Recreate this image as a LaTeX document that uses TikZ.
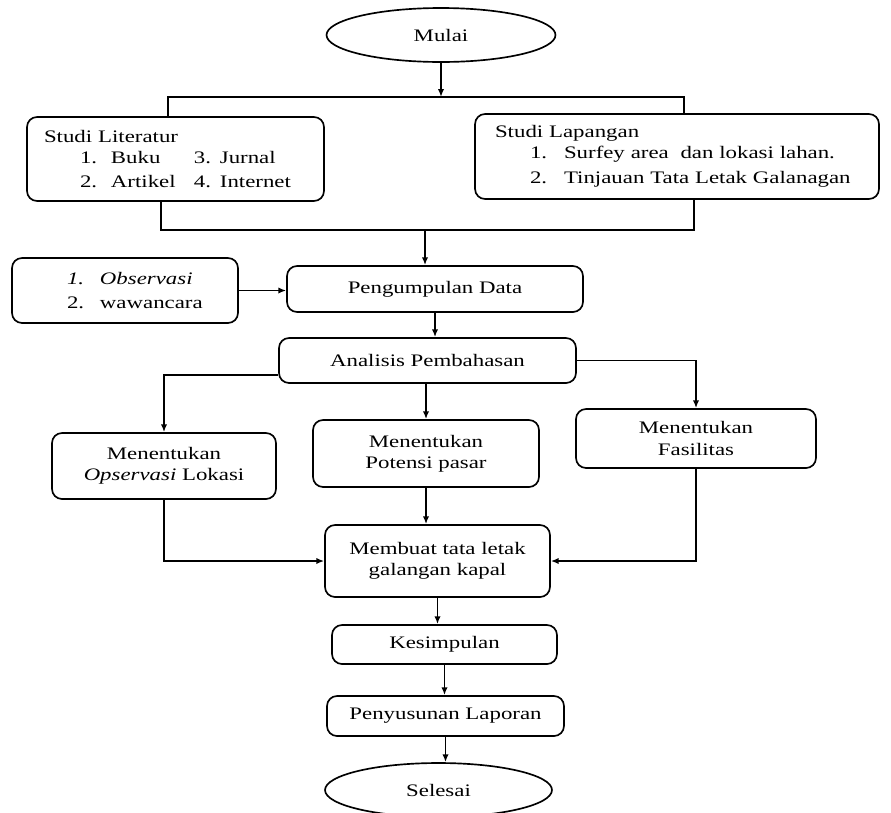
\documentclass[tikz,border=0pt]{standalone}
\usepackage{fontspec}
\setmainfont[FakeStretch=1.3]{Liberation Serif}
\usetikzlibrary{shapes.geometric,arrows.meta}

\begin{document}
\begin{tikzpicture}[x=0.02cm, y=-0.02cm,
            box/.style={draw, rounded corners=0.2cm, line width=0.95pt, align=center, inner sep=0pt},
            oval/.style={draw, ellipse, line width=0.95pt, inner sep=0pt},
            ln/.style={line width=0.9pt},
            arr/.style={line width=0.9pt, -{Latex[length=4.5pt,width=3.6pt]}}]
            \useasboundingbox (0,0) rectangle (891,812);
            \node[oval, minimum width=4.58cm, minimum height=1.08cm] (mulai) at (441,35) {Mulai};
            \node[box, align=left, text width=5.26cm, inner xsep=0.34cm, minimum height=1.68cm] (lit) at (175.5,159)
                {Studi Literatur\\
                \hspace*{0.72cm}\makebox[0.62cm][l]{1.}\makebox[1.66cm][l]{Buku}3. Jurnal\\[2pt]
                \hspace*{0.72cm}\makebox[0.62cm][l]{2.}\makebox[1.66cm][l]{Artikel}4. Internet};
            \node[box, align=left, text width=7.28cm, inner xsep=0.4cm, minimum height=1.70cm] (lap) at (677,156.5)
                {Studi Lapangan\\
                \hspace*{0.70cm}\makebox[0.68cm][l]{1.}Surfey area\ \ dan lokasi lahan.\\[2pt]
                \hspace*{0.70cm}\makebox[0.68cm][l]{2.}Tinjauan Tata Letak Galanagan};
            \node[box, align=left, text width=3.92cm, inner xsep=0.3cm, minimum height=1.30cm] (obs) at (125,290.5)
                {\hspace*{0.8cm}\makebox[0.66cm][l]{\textit{1.}}\textit{Observasi}\\[2pt]
                \hspace*{0.8cm}\makebox[0.66cm][l]{2.}wawancara};
            \node[box, minimum width=5.92cm, minimum height=0.92cm] (kumpul) at (435,289) {Pengumpulan Data};
            \node[box, minimum width=5.94cm, minimum height=0.90cm] (analisis) at (427.5,360.5) {Analisis Pembahasan};
            \node[box, minimum width=4.48cm, minimum height=1.32cm] (lokasi) at (164,466) {Menentukan\\\textit{Opservasi} Lokasi};
            \node[box, minimum width=4.52cm, minimum height=1.34cm] (pasar) at (426,453.5) {Menentukan\\Potensi pasar};
            \node[box, minimum width=4.80cm, minimum height=1.18cm] (fasilitas) at (696,438.5) {Menentukan\\Fasilitas};
            \node[box, minimum width=4.50cm, minimum height=1.44cm] (tataletak) at (437.5,561) {Membuat tata letak\\galangan kapal};
            \node[box, minimum width=4.50cm, minimum height=0.78cm] (simpul) at (444.5,644.5) {Kesimpulan};
            \node[box, minimum width=4.74cm, minimum height=0.80cm] (susun) at (445.5,716) {Penyusunan Laporan};
            \node[oval, minimum width=4.54cm, minimum height=1.08cm] (selesai) at (438.5,790) {Selesai};

            \coordinate (j1) at (441,97);
            \coordinate (tl) at (168,97);
            \coordinate (tr) at (684,97);
            \coordinate (bl) at (161,230);
            \coordinate (br) at (694,230);
            \coordinate (bm) at (425,230);
            \draw[arr] (mulai.south) -- (j1);
            \draw[ln] (lit.north -| tl) -- (tl) -- (tr) -- (lap.north -| tr);
            \draw[ln] (lit.south -| bl) -- (bl) -- (br) -- (lap.south -| br);
            \draw[arr] (bm) -- (kumpul.north -| bm);
            \draw[arr] (obs.east) -- (obs.east -| kumpul.west);
            \draw[arr] (kumpul.south) -- (kumpul.south |- analisis.north);
            \draw[arr] ([yshift=-0.29cm]analisis.west) -| (lokasi.north);
            \draw[arr] (analisis.south -| pasar.north) -- (pasar.north);
            \draw[arr] (analisis.east) -| (fasilitas.north);
            \draw[arr] (lokasi.south) |- (tataletak.west);
            \draw[arr] (pasar.south) -- (pasar.south |- tataletak.north);
            \draw[arr] (fasilitas.south) |- (tataletak.east);
            \draw[arr] (tataletak.south) -- (tataletak.south |- simpul.north);
            \draw[arr] (simpul.south) -- (simpul.south |- susun.north);
            \draw[arr] (susun.south) -- (susun.south |- selesai.north);
        \end{tikzpicture}
\end{document}
